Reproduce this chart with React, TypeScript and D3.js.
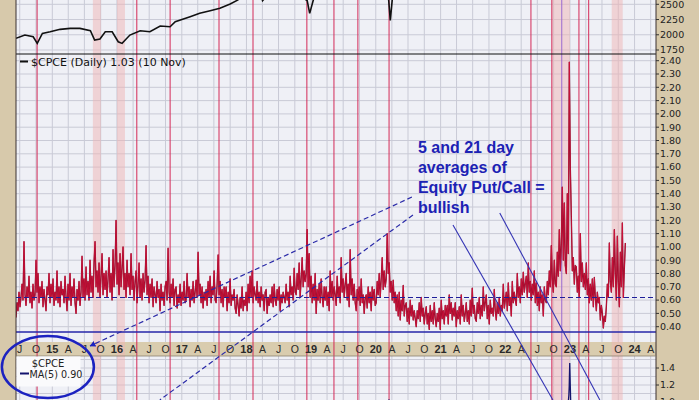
import React from "react";
import * as d3 from "d3";

const W = 699;
const H = 400;

// $SPX close (top panel)
const spxDates = [
  "2014-06-10", "2014-07-30", "2014-09-15", "2014-10-08", "2014-11-06", "2014-12-20",
  "2015-02-14", "2015-04-12", "2015-06-06", "2015-08-04", "2015-08-28", "2015-09-27",
  "2015-10-27", "2015-12-05", "2016-01-08", "2016-01-30", "2016-03-14", "2016-05-11",
  "2016-07-05", "2016-09-01", "2016-10-27", "2016-11-25", "2017-02-17", "2017-04-12",
  "2017-06-10", "2017-08-04", "2017-10-01", "2017-11-14", "2018-01-26", "2018-02-08",
  "2018-03-15", "2018-04-02", "2018-06-01", "2018-09-20", "2018-10-29", "2018-12-10",
  "2018-12-24", "2019-01-20", "2019-04-30", "2019-07-25", "2020-02-19", "2020-03-09",
  "2020-03-23", "2020-04-10", "2020-06-08", "2021-01-01", "2022-01-03", "2022-06-16",
  "2022-10-12", "2023-07-31", "2023-10-27", "2023-11-10",
];
const spxValues = [
  1941, 1995, 1967, 1858, 2023, 2049,
  2089, 2105, 2105, 2066, 1913, 1929,
  2049, 2049, 1885, 1858, 1995, 2066,
  2049, 2143, 2132, 2214, 2296, 2352,
  2395, 2434, 2505, 2571, 2850, 2600,
  2740, 2560, 2750, 2930, 2640, 2560,
  2351, 2640, 2940, 3020, 3386, 2746,
  2237, 2790, 3230, 3750, 4796, 3666,
  3577, 4589, 4117, 4415,
];

// $CPCE daily, sampled evenly from first to last date
const cpceStart = "2014-06-10";
const cpceEnd = "2023-11-10";
const cpceValues = [
  0.47, 0.58, 0.52, 0.66, 0.55, 0.62, 0.72, 0.60, 1.04, 0.64,
  0.56, 0.70, 0.62, 0.78, 0.58, 0.66, 0.54, 0.72, 0.60, 0.64,
  0.90, 0.66, 0.80, 0.58, 0.70, 0.62, 0.74, 0.55, 0.68, 0.60,
  0.52, 0.70, 0.64, 0.80, 0.58, 0.72, 0.62, 0.76, 0.56, 0.66,
  0.60, 0.82, 0.58, 0.70, 0.55, 0.74, 0.64, 0.68, 0.58, 0.78,
  0.62, 0.52, 0.72, 0.60, 0.80, 0.56, 0.70, 0.62, 0.76, 0.58,
  0.50, 0.68, 0.60, 0.74, 0.56, 0.66, 0.93, 0.62, 0.76, 0.60,
  0.85, 0.64, 0.74, 0.60, 0.90, 0.66, 0.78, 0.62, 0.88, 1.04,
  0.70, 0.82, 0.66, 0.88, 0.62, 0.78, 0.95, 0.64, 0.80, 0.68,
  0.82, 0.62, 0.76, 0.92, 0.66, 0.80, 0.60, 0.98, 0.70, 0.86,
  1.20, 0.72, 0.88, 0.64, 0.95, 0.70, 0.84, 1.00, 0.68, 0.80,
  0.62, 0.90, 0.70, 0.80, 0.64, 0.95, 0.68, 0.78, 0.60, 0.74,
  0.82, 0.58, 0.72, 0.88, 0.62, 0.76, 0.60, 0.80, 0.66, 0.75,
  1.01, 0.64, 0.78, 0.58, 0.72, 0.62, 0.76, 0.55, 0.70, 0.64,
  0.58, 0.74, 0.62, 0.68, 0.52, 0.72, 0.60, 0.66, 0.56, 0.70,
  0.74, 0.60, 0.99, 0.66, 0.58, 0.72, 0.62, 0.76, 0.56, 0.68,
  0.70, 0.54, 0.64, 0.58, 0.72, 0.56, 0.66, 0.60, 0.74, 0.58,
  0.60, 0.80, 0.62, 0.70, 0.55, 0.68, 0.60, 0.74, 0.58, 0.66,
  0.75, 0.62, 0.96, 0.64, 0.72, 0.58, 0.70, 0.54, 0.66, 0.60,
  0.68, 0.56, 0.74, 0.62, 0.78, 0.58, 0.70, 0.64, 0.82, 0.60,
  0.58, 0.72, 0.94, 0.64, 0.74, 0.58, 0.68, 0.55, 0.70, 0.62,
  0.70, 0.52, 0.66, 0.58, 0.76, 0.56, 0.64, 0.60, 0.68, 0.54,
  0.50, 0.64, 0.56, 0.48, 0.62, 0.54, 0.70, 0.52, 0.60, 0.56,
  0.66, 0.52, 0.72, 0.58, 0.78, 0.62, 0.82, 0.58, 0.70, 0.64,
  0.60, 0.74, 0.58, 0.66, 0.55, 0.70, 0.60, 0.64, 0.52, 0.66,
  0.68, 0.50, 0.62, 0.56, 0.64, 0.58, 0.70, 0.55, 0.72, 0.60,
  0.56, 0.68, 0.60, 0.70, 0.52, 0.64, 0.58, 0.66, 0.62, 0.58,
  0.72, 0.60, 0.66, 0.55, 0.78, 0.64, 0.70, 0.60, 0.84, 0.66,
  0.64, 0.80, 0.68, 0.88, 0.62, 0.76, 0.92, 0.70, 0.82, 0.74,
  0.80, 1.13, 0.70, 0.95, 0.62, 0.78, 0.58, 0.72, 0.60, 0.80,
  0.50, 0.68, 0.60, 0.72, 0.58, 0.76, 0.62, 0.55, 0.70, 0.60,
  0.70, 0.56, 0.66, 0.52, 0.82, 0.62, 0.74, 0.60, 0.70, 0.64,
  0.56, 0.78, 0.62, 0.70, 0.58, 0.92, 0.66, 0.76, 0.62, 0.72,
  0.80, 0.60, 0.72, 0.55, 0.98, 0.64, 0.76, 0.60, 0.72, 0.58,
  0.52, 0.68, 0.60, 0.70, 0.56, 0.76, 0.58, 0.64, 0.50, 0.62,
  0.64, 0.54, 0.70, 0.58, 0.66, 0.52, 0.70, 0.60, 0.68, 0.56,
  0.58, 0.74, 0.64, 0.80, 0.62, 0.76, 0.92, 0.68, 0.82, 0.70,
  0.76, 1.10, 0.80, 0.88, 0.66, 0.74, 0.60, 0.75, 0.58, 0.66,
  0.52, 0.64, 0.48, 0.66, 0.45, 0.60, 0.52, 0.71, 0.48, 0.56,
  0.58, 0.44, 0.54, 0.42, 0.60, 0.48, 0.56, 0.45, 0.52, 0.46,
  0.40, 0.52, 0.46, 0.58, 0.44, 0.62, 0.48, 0.54, 0.42, 0.50,
  0.55, 0.42, 0.50, 0.38, 0.56, 0.44, 0.52, 0.42, 0.58, 0.46,
  0.40, 0.50, 0.44, 0.54, 0.38, 0.60, 0.46, 0.52, 0.42, 0.56,
  0.48, 0.56, 0.42, 0.64, 0.50, 0.58, 0.45, 0.54, 0.48, 0.58,
  0.40, 0.52, 0.46, 0.55, 0.42, 0.64, 0.48, 0.56, 0.44, 0.50,
  0.58, 0.44, 0.52, 0.42, 0.60, 0.48, 0.69, 0.50, 0.56, 0.46,
  0.44, 0.58, 0.50, 0.62, 0.46, 0.56, 0.48, 0.70, 0.52, 0.58,
  0.64, 0.46, 0.56, 0.42, 0.60, 0.50, 0.54, 0.48, 0.68, 0.52,
  0.45, 0.58, 0.50, 0.62, 0.48, 0.56, 0.52, 0.72, 0.54, 0.60,
  0.66, 0.52, 0.73, 0.56, 0.62, 0.48, 0.74, 0.58, 0.66, 0.60,
  0.56, 0.80, 0.62, 0.70, 0.58, 0.76, 0.64, 0.81, 0.66, 0.72,
  0.78, 0.62, 0.88, 0.66, 0.74, 0.60, 0.72, 0.64, 0.82, 0.58,
  0.73, 0.56, 0.66, 0.52, 0.70, 0.58, 0.64, 0.48, 0.70, 0.60,
  0.58, 0.74, 0.64, 0.82, 0.70, 1.01, 0.76, 0.66, 0.90, 0.72,
  0.70, 0.96, 0.78, 1.13, 0.82, 1.02, 1.45, 0.90, 1.33, 0.86,
  0.80, 1.40, 0.95, 2.39, 1.60, 1.23, 0.82, 0.92, 0.72, 0.86,
  0.85, 0.66, 0.78, 0.62, 1.10, 0.74, 0.88, 0.70, 0.80, 0.68,
  0.88, 0.64, 0.76, 0.58, 0.72, 0.60, 0.76, 0.55, 0.77, 0.62,
  0.52, 0.66, 0.58, 0.62, 0.45, 0.56, 0.50, 0.39, 0.48, 0.44,
  0.55, 0.72, 0.62, 1.03, 0.74, 0.66, 0.92, 0.70, 1.13, 0.80,
  0.60, 1.08, 0.74, 0.55, 0.96, 0.70, 1.18, 0.62, 0.84, 1.03,
];

// MA(5) of $CPCE (bottom panel, mostly below the visible range)
const maDates = [
  "2014-06-10", "2015-09-01", "2016-01-20", "2017-01-01", "2018-02-08", "2018-12-20",
  "2019-06-01", "2020-03-01", "2020-03-11", "2020-03-16", "2020-03-22", "2020-04-10",
  "2021-06-01", "2022-06-01", "2022-10-15", "2022-12-20", "2022-12-26", "2022-12-28",
  "2022-12-31", "2023-01-03", "2023-01-06", "2023-01-15", "2023-06-01", "2023-10-20",
  "2023-11-10",
];
const maValues = [
  0.60, 0.80, 0.88, 0.62, 0.80, 0.90,
  0.65, 0.80, 0.95, 1.03, 0.92, 0.70,
  0.50, 0.75, 0.90, 0.92, 1.08, 1.18,
  1.46, 1.20, 0.96, 0.82, 0.55, 0.95,
  0.90,
];

const eventLines = [
  "2014-10-07", "2016-04-22", "2016-10-27", "2017-07-30", "2018-02-07", "2018-12-08",
  "2019-05-10", "2019-09-22", "2020-03-16", "2022-05-26", "2022-09-21", "2023-02-21",
  "2023-04-17",
];
const purpleLines = ["2022-11-16"];
const bands = [
  ["2015-08-18", "2015-10-02"],
  ["2016-01-01", "2016-02-15"],
  ["2022-09-21", "2023-01-01"],
  ["2023-08-25", "2023-10-26"],
];

const spxTicks = [1750, 2000, 2250, 2500];
const cpceTicks = [
  0.4, 0.5, 0.6, 0.7, 0.8, 0.9, 1.0, 1.1, 1.2, 1.3, 1.4, 1.5,
  1.6, 1.7, 1.8, 1.9, 2.0, 2.1, 2.2, 2.3, 2.4,
];
const maTicks = [1.0, 1.2, 1.4];
const maGrid = [1.0, 1.1, 1.2, 1.3, 1.4, 1.5];
const quarterLetters: Record<number, string> = { 3: "A", 6: "J", 9: "O" };

const signalLevel = 0.62;
const floorLevel = 0.36;

const noteLines = [
  "5 and 21 day",
  "averages of",
  "Equity Put/Call =",
  "bullish",
];
const dashedNotes = [
  [["2020-07-23", 1.375], ["2015-08-02", 0.255]],
  [["2020-07-29", 1.24], ["2016-08-30", -0.151]],
];
const solidNotes = [
  [["2021-03-12", 1.165], ["2022-09-27", -0.151]],
  [["2021-12-01", 1.255], ["2023-06-19", -0.151]],
];

const L = 16;
const R = 656;
const topY0 = 0, topY1 = 54;
const midY0 = 54, midY1 = 342;
const stripY0 = 342, stripY1 = 356;
const botY0 = 356, botY1 = 400;

const FONT = "DejaVu Sans, Verdana, sans-serif";
const ARIAL = "Liberation Sans, Arial, sans-serif";

export default function App() {
  const pd = (s: string) => new Date(s + "T00:00:00");
  const x = d3.scaleTime().domain([pd("2014-06-10"), pd("2024-05-01")]).range([L, R]);
  const ySpx = d3.scaleLinear().domain([1750, 2500]).range([50, 4.3]);
  const yC = d3.scaleLinear().domain([0.4, 2.4]).range([326.7, 60.7]);
  const yMa = d3.scaleLinear().domain([1.2, 1.4]).range([385, 368]);

  const t0 = pd(cpceStart).getTime();
  const t1 = pd(cpceEnd).getTime();
  const cpceDate = (i: number) => new Date(t0 + ((t1 - t0) * i) / (cpceValues.length - 1));

  const spxPath = d3.line<number>()
    .x((_, i) => x(pd(spxDates[i])))
    .y((d) => ySpx(d))(spxValues) || "";
  const cpcePath = d3.line<number>()
    .x((_, i) => x(cpceDate(i)))
    .y((d) => yC(d))(cpceValues) || "";
  const maPath = d3.line<number>()
    .x((_, i) => x(pd(maDates[i])))
    .y((d) => yMa(d))(maValues) || "";

  const quarters = d3.timeMonth.every(3)!.range(pd("2014-07-01"), pd("2024-05-01"));

  const panels = [
    [topY0, topY1],
    [midY0, midY1],
    [botY0, botY1],
  ];

  const noteX = x(pd("2020-08-26"));
  const noteY = yC(1.706);

  return (
    <svg width={W} height={H} style={{ display: "block" }} fontFamily={FONT}>
      <style>{`body{margin:0}`}</style>
      <defs>
        <clipPath id="cTop"><rect x={L} y={topY0} width={R - L} height={topY1 - topY0} /></clipPath>
        <clipPath id="cMid"><rect x={L} y={midY0} width={R - L} height={midY1 - midY0} /></clipPath>
        <clipPath id="cBot"><rect x={L} y={botY0} width={R - L} height={botY1 - botY0} /></clipPath>
        <clipPath id="cAll"><rect x={L} y={0} width={R - L} height={H} /></clipPath>
        <marker id="arrow" viewBox="0 0 10 10" refX="9" refY="5" markerWidth="5" markerHeight="5" orient="auto">
          <path d="M0,0 L10,5 L0,10 z" fill="#1c22c0" />
        </marker>
      </defs>

      <rect x={0} y={0} width={W} height={H} fill="#d7c9ab" />

      {panels.map(([a, b], i) => (
        <rect key={i} x={L} y={a} width={R - L} height={b - a} fill="#eff0f6" />
      ))}

      {/* vertical grid */}
      {panels.map(([a, b], i) => (
        <g key={"vg" + i}>
          {quarters.map((q) => (
            <line key={+q} x1={x(q)} x2={x(q)} y1={a} y2={b} stroke="#c9cad6" strokeWidth={1} />
          ))}
        </g>
      ))}

      {/* horizontal grid */}
      {spxTicks.map((v) => (
        <line key={"sg" + v} x1={L} x2={R} y1={ySpx(v)} y2={ySpx(v)} stroke="#c9cad6" />
      ))}
      {cpceTicks.map((v) => (
        <line key={"cg" + v} x1={L} x2={R} y1={yC(v)} y2={yC(v)} stroke="#c9cad6" />
      ))}
      {maGrid.map((v) => (
        <line key={"mg" + v} x1={L} x2={R} y1={yMa(v)} y2={yMa(v)} stroke="#c9cad6" />
      ))}

      {/* time axis strip */}
      <rect x={L} y={stripY0} width={R - L} height={stripY1 - stripY0} fill="#d9ccae" />

      {/* highlighted periods and signal dates */}
      <g clipPath="url(#cAll)">
        {bands.map(([a, b]) => (
          <rect key={a} x={x(pd(a))} y={0} width={x(pd(b)) - x(pd(a))} height={H} fill="#f0b4b4" opacity={0.5} />
        ))}
        {eventLines.map((d) => (
          <line key={d} x1={x(pd(d))} x2={x(pd(d))} y1={0} y2={H} stroke="#d42a58" strokeWidth={1} />
        ))}
        {purpleLines.map((d) => (
          <line key={d} x1={x(pd(d))} x2={x(pd(d))} y1={0} y2={H} stroke="#9a6ad0" strokeWidth={1} />
        ))}
      </g>

      <path d={spxPath} clipPath="url(#cTop)" fill="none" stroke="#111" strokeWidth={1.6} />

      <g clipPath="url(#cMid)">
        <path d={cpcePath} fill="none" stroke="#7c0a24" strokeWidth={1.3} strokeLinejoin="round" />
        <path d={cpcePath} fill="none" stroke="#d8123e" strokeWidth={0.7} strokeLinejoin="round" />
        <line x1={L} x2={R} y1={yC(signalLevel)} y2={yC(signalLevel)} stroke="#1e1e9a" strokeWidth={1.1} strokeDasharray="5,3" />
        <line x1={L} x2={R} y1={yC(floorLevel)} y2={yC(floorLevel)} stroke="#2626a8" strokeWidth={1.3} />
      </g>

      <path d={maPath} clipPath="url(#cBot)" fill="none" stroke="#14146e" strokeWidth={1.3} />

      {/* panel borders */}
      <line x1={L} x2={R} y1={topY1} y2={topY1} stroke="#111" strokeWidth={1.2} />
      <line x1={L} x2={L} y1={0} y2={H} stroke="#3a3030" strokeWidth={1} />
      <line x1={R} x2={R} y1={0} y2={H} stroke="#3a3030" strokeWidth={1} />
      <line x1={L} x2={R} y1={botY0} y2={botY0} stroke="#8a8070" strokeWidth={0.8} />

      {/* time axis labels */}
      {quarters.map((q) => {
        const m = q.getMonth();
        const isYear = m === 0;
        const label = isYear ? String(q.getFullYear()).slice(2) : quarterLetters[m];
        return (
          <text key={"tl" + +q} x={x(q)} y={353} textAnchor="middle" fontFamily={ARIAL}
            fontSize={isYear ? 11 : 10.5} fontWeight={isYear ? "bold" : "normal"} fill="#2a2a2a">
            {label}
          </text>
        );
      })}

      {/* right axes */}
      {spxTicks.map((v) => (
        <g key={"sl" + v}>
          <line x1={R} x2={R + 3} y1={ySpx(v)} y2={ySpx(v)} stroke="#333" />
          <text x={R + 4} y={ySpx(v)} dy="0.35em" fontSize={9.5} fill="#222">{v}</text>
        </g>
      ))}
      {cpceTicks.map((v) => (
        <g key={"cl" + v}>
          <line x1={R} x2={R + 3} y1={yC(v)} y2={yC(v)} stroke="#333" />
          <text x={R + 4} y={yC(v)} dy="0.35em" fontSize={9.5} fill="#222">{v.toFixed(2)}</text>
        </g>
      ))}
      {maTicks.map((v) => (
        <g key={"ml" + v}>
          <line x1={R} x2={R + 3} y1={yMa(v)} y2={yMa(v)} stroke="#333" />
          <text x={R + 4} y={yMa(v)} dy="0.35em" fontSize={9.5} fill="#222">{v.toFixed(1)}</text>
        </g>
      ))}

      {/* legends */}
      <line x1={20} x2={28} y1={61.5} y2={61.5} stroke="#111" strokeWidth={2} />
      <text x={31} y={65.5} fontSize={11} fill="#111">$CPCE (Daily) 1.03 (10 Nov)</text>

      <rect x={L + 0.5} y={botY0 + 0.5} width={64} height={30} fill="#fafafc" />
      <text x={48} y={366.5} textAnchor="middle" fontSize={10} fill="#222">$CPCE</text>
      <line x1={20} x2={29} y1={373.5} y2={373.5} stroke="#14146e" strokeWidth={2} />
      <text x={29.5} y={377.5} fontSize={9.6} fill="#222">MA(5) 0.90</text>

      {/* annotations */}
      {noteLines.map((s, i) => (
        <text key={s} x={noteX} y={noteY + i * 20} fontFamily={ARIAL} fontWeight="bold" fontSize={16} fill="#1c22b4">
          {s}
        </text>
      ))}
      {dashedNotes.map((seg, i) => (
        <line key={"dn" + i}
          x1={x(pd(seg[0][0] as string))} y1={yC(seg[0][1] as number)}
          x2={x(pd(seg[1][0] as string))} y2={yC(seg[1][1] as number)}
          stroke="#2a2aa8" strokeWidth={1.2} strokeDasharray="5,3"
          markerEnd={i === 0 ? "url(#arrow)" : undefined} />
      ))}
      {solidNotes.map((seg, i) => (
        <line key={"sn" + i}
          x1={x(pd(seg[0][0] as string))} y1={yC(seg[0][1] as number)}
          x2={x(pd(seg[1][0] as string))} y2={yC(seg[1][1] as number)}
          stroke="#3434b4" strokeWidth={1.1} />
      ))}
      <ellipse cx={x(pd("2014-12-07"))} cy={367} rx={46} ry={31} fill="none" stroke="#1c22c0" strokeWidth={2.5} />
    </svg>
  );
}
